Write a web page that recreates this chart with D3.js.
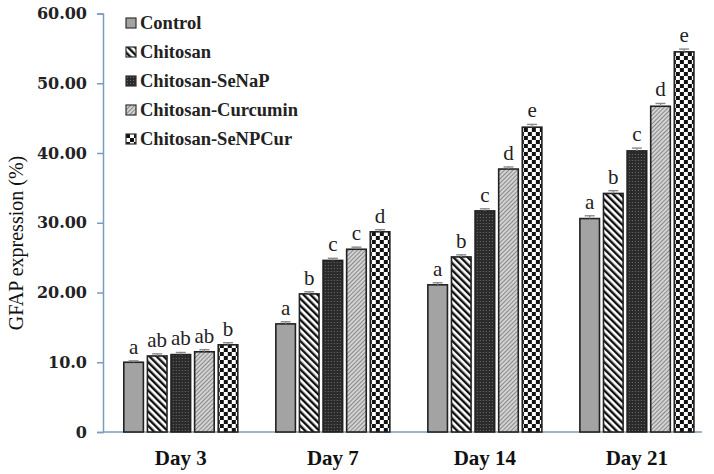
<!DOCTYPE html>
<html><head><meta charset="utf-8">
<script src="https://cdn.jsdelivr.net/npm/d3@7"></script>
<style>body{margin:0;background:#fff}svg{display:block}</style>
</head><body>
<svg id="c" width="714" height="474"></svg>
<script>
const days = ["Day 3", "Day 7", "Day 14", "Day 21"];
const groups = ["Control", "Chitosan", "Chitosan-SeNaP", "Chitosan-Curcumin", "Chitosan-SeNPCur"];
const control   = [10.0, 15.5, 21.1, 30.6];
const chitosan  = [10.9, 19.8, 25.1, 34.2];
const senap     = [11.1, 24.6, 31.7, 40.3];
const curcumin  = [11.5, 26.2, 37.7, 46.7];
const senpcur   = [12.5, 28.7, 43.7, 54.5];
const errors    = [[0.2,0.3,0.3,0.4],[0.3,0.3,0.3,0.4],[0.3,0.3,0.3,0.4],[0.3,0.3,0.3,0.4],[0.3,0.3,0.4,0.4]];
const letters   = [["a","a","a","a"],["ab","b","b","b"],["ab","c","c","c"],["ab","c","d","d"],["b","d","e","e"]];
const yTicks = [0, 10, 20, 30, 40, 50, 60];
const yTickLabels = ["0", "10.0", "20.00", "30.00", "40.00", "50.00", "60.00"];
const series = [control, chitosan, senap, curcumin, senpcur];

const svg = d3.select("#c");
const defs = svg.append("defs");

function pat(id, w, h, rot) {
  const p = defs.append("pattern").attr("id", id).attr("patternUnits", "userSpaceOnUse")
    .attr("width", w).attr("height", h);
  if (rot) p.attr("patternTransform", `rotate(${rot})`);
  return p;
}
let p = pat("pControl", 4, 4);
p.append("rect").attr("width", 4).attr("height", 4).attr("fill", "#a3a3a3");
p = pat("pChit", 5, 5, -45);
p.append("rect").attr("width", 5).attr("height", 5).attr("fill", "#fff");
p.append("rect").attr("width", 2.4).attr("height", 5).attr("fill", "#111");
p = pat("pSeNaP", 3, 3);
p.append("rect").attr("width", 3).attr("height", 3).attr("fill", "#2b2b2b");
p.append("rect").attr("x", 1).attr("y", 1).attr("width", 1).attr("height", 1).attr("fill", "#6a6a6a");
p = pat("pCurc", 3, 3, 45);
p.append("rect").attr("width", 3).attr("height", 3).attr("fill", "#d2d2d2");
p.append("rect").attr("width", 1).attr("height", 3).attr("fill", "#8a8a8a");
p = pat("pCheck", 8, 8);
p.append("rect").attr("width", 8).attr("height", 8).attr("fill", "#fff");
p.append("rect").attr("width", 4).attr("height", 4).attr("fill", "#111");
p.append("rect").attr("x", 4).attr("y", 4).attr("width", 4).attr("height", 4).attr("fill", "#111");
const fills = ["url(#pControl)", "url(#pChit)", "url(#pSeNaP)", "url(#pCurc)", "url(#pCheck)"];

const x0 = d3.scaleBand().domain(days).range([103, 702]).paddingInner(0.25).paddingOuter(0.095).align(0.72);
const x1 = d3.scaleBand().domain(groups).range([0, x0.bandwidth()]).paddingInner(0.17);
const y = d3.scaleLinear().domain([0, 60]).range([432, 13.5]);

const axisColor = "#7d9bbd";
const yAxis = svg.append("g").attr("transform", "translate(103,0)")
  .call(d3.axisLeft(y).tickValues(yTicks).tickFormat((d, i) => yTickLabels[i]).tickSize(6).tickPadding(10));
yAxis.select(".domain").attr("stroke", axisColor).attr("stroke-width", 1.5);
yAxis.selectAll(".tick line").attr("stroke", axisColor).attr("stroke-width", 1.5);
yAxis.selectAll(".tick text").attr("font-family", "DejaVu Serif").attr("font-weight", "bold")
  .attr("font-size", 16).attr("fill", "#222");

const xAxis = svg.append("g").attr("transform", "translate(0,432)")
  .call(d3.axisBottom(x0).tickSize(0).tickPadding(18));
xAxis.select(".domain").attr("stroke", axisColor).attr("stroke-width", 1.5).attr("d", "M103,0H702");
xAxis.selectAll(".tick text").attr("font-family", "Liberation Serif").attr("font-weight", "bold")
  .attr("font-size", 21).attr("fill", "#111");

svg.append("text").attr("transform", "translate(23,243) rotate(-90)").attr("text-anchor", "middle")
  .attr("font-family", "Liberation Serif").attr("font-size", 20).attr("fill", "#111")
  .text("GFAP expression (%)");

const gs = svg.append("g").selectAll("g").data(days).join("g")
  .attr("transform", d => `translate(${x0(d)},0)`);
gs.each(function(day, di) {
  const g = d3.select(this);
  groups.forEach((grp, si) => {
    const v = series[si][di], e = errors[si][di];
    const bx = x1(grp), bw = x1.bandwidth();
    g.append("rect").attr("x", bx).attr("y", y(v)).attr("width", bw).attr("height", y(0) - y(v))
      .attr("fill", fills[si]).attr("stroke", "#222").attr("stroke-width", 1.6);
    const cx = bx + bw / 2;
    g.append("line").attr("x1", cx).attr("x2", cx).attr("y1", y(v)).attr("y2", y(v + e)).attr("stroke", "#888").attr("stroke-width", 1.2);
    g.append("line").attr("x1", cx - 5).attr("x2", cx + 5).attr("y1", y(v + e)).attr("y2", y(v + e)).attr("stroke", "#888").attr("stroke-width", 1.4);
    g.append("text").attr("x", cx).attr("y", y(v + e) - 7).attr("text-anchor", "middle")
      .attr("font-family", "Liberation Serif").attr("font-size", 21).attr("fill", "#222")
      .text(letters[si][di]);
  });
});

const lg = svg.append("g").attr("transform", "translate(126,18)");
groups.forEach((grp, i) => {
  const row = lg.append("g").attr("transform", `translate(0,${i * 29})`);
  row.append("rect").attr("width", 10).attr("height", 10).attr("fill", fills[i]).attr("stroke", "#333").attr("stroke-width", 1.2);
  row.append("text").attr("x", 14).attr("y", 5).attr("dy", "0.35em")
    .attr("font-family", "Liberation Serif").attr("font-weight", "bold").attr("font-size", 18.5).attr("fill", "#222")
    .text(grp);
});
</script>
</body></html>
